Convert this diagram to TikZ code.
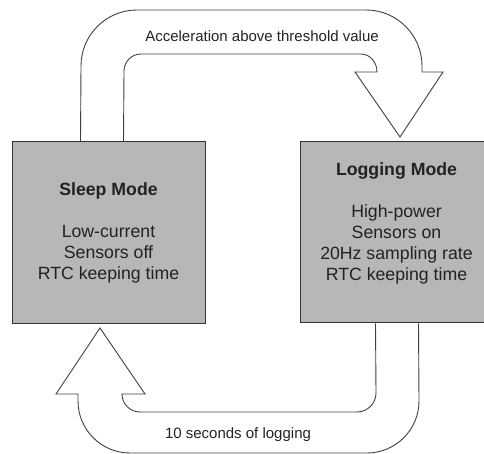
\documentclass[tikz,border=0pt]{standalone}
\usepackage{fontspec}
\setmainfont{Liberation Sans}
\definecolor{boxgray}{HTML}{B7B7B7}
\definecolor{inkgray}{HTML}{222222}
\begin{document}
\begin{tikzpicture}[x=1pt,y=1pt,
  modebox/.style={draw=black!80, line width=1pt, fill=boxgray, minimum width=193pt,
    minimum height=182pt, inner sep=0pt, align=center,
    font=\fontsize{17.7}{21}\selectfont, text=inkgray},
  flow/.style={draw=black!75, line width=0.9pt, line join=miter},
  lbl/.style={font=\fontsize{15}{18}\selectfont, text=inkgray, inner sep=0pt}]
\useasboundingbox (0,0) rectangle (484,454);
\node[modebox] (sleep) at (108.5,221)
  {\textbf{Sleep Mode}\\[21pt]Low-current\\Sensors off\\RTC keeping time};
\node[modebox, minimum height=181pt] (log) at (396.5,221.5)
  {\textbf{Logging Mode}\\[21pt]High-power\\Sensors on\\20Hz sampling rate\\RTC keeping time\\\mbox{}};
% top block arrow: sleep -> logging
\draw[flow] ([xshift=69pt]sleep.north west) -- (81,388)
  arc[start angle=180,end angle=90,radius=56] -- (366,444)
  arc[start angle=90,end angle=0,radius=56] -- (422,382) -- (443,382)
  -- (400,317) -- (355,382) -- (377,382)
  arc[start angle=0,end angle=90,x radius=16,y radius=18] -- (141,400)
  arc[start angle=90,end angle=180,radius=17] -- ([xshift=112pt]sleep.north west);
% bottom block arrow: logging -> sleep
\draw[flow] ([xshift=76pt]log.south west) -- (376,61)
  arc[start angle=0,end angle=-90,radius=19] -- (140,42)
  arc[start angle=270,end angle=180,radius=18] -- (145,60)
  -- (100,126) -- (56,60) -- (78,60) -- (78,53)
  arc[start angle=180,end angle=270,radius=52] -- (367,1)
  arc[start angle=270,end angle=360,radius=52] -- ([xshift=119pt]log.south west);
\node[lbl] (acc) at (262,418) {Acceleration above threshold value};
\node[lbl] (ten) at (238,19) {10 seconds of logging};
\end{tikzpicture}
\end{document}
